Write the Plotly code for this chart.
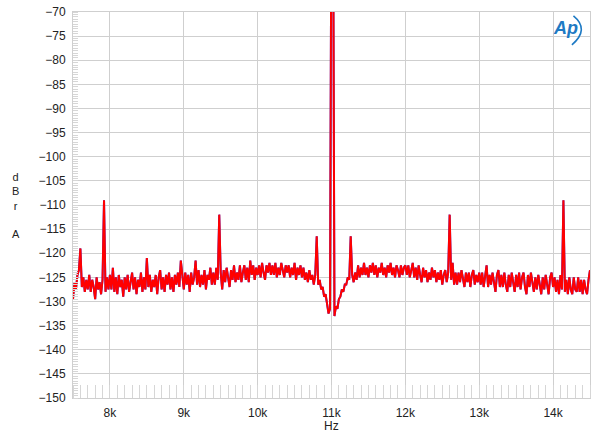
import plotly.graph_objects as go

# --- data (dBr A), sampled every 20 Hz ---
STEP_HZ = 20
seg_7k5 = [  # 7500 .. 7980
    -129.5, -126, -127.5, -124.5, -123.5, -119, -127, -125, -128, -125.5,
    -127.5, -124.5, -128, -125.5, -127, -129.5, -125, -127.5, -126, -128.5,
    -125.5, -109, -128, -125, -127.5,
]
seg_8k = [  # 8000 .. 8980
    -124.5, -127.5, -123, -128, -125, -128.5, -124.5, -127, -125.5, -129,
    -125, -127.5, -124.5, -128, -126, -124, -127.5, -125, -128.5, -125.5,
    -127, -124, -128, -125, -127.5, -121, -127, -124.5, -128, -125.5,
    -127, -124.5, -128.5, -125, -123.5, -127.5, -125, -128, -124.5, -126.5,
    -124, -127.5, -125, -128, -124.5, -126.5, -124, -127, -121.5, -125,
]
seg_9k = [  # 9000 .. 9980
    -127.5, -124, -126.5, -124.5, -128, -124, -126.5, -125, -121.5, -126.5,
    -123.5, -127, -124.5, -126.5, -123.5, -127.5, -124.5, -125.5, -123, -126.5,
    -124, -126.5, -123, -125.5, -112, -124, -127.5, -123.5, -126, -123,
    -125.5, -127, -123.5, -125.5, -122.5, -126, -124, -125.5, -122.5, -126,
    -124, -122.5, -125.5, -123, -126, -121.5, -124.5, -122.5, -125.5, -123,
]
seg_10k = [  # 10000 .. 10980
    -124.5, -122.5, -125, -122, -124, -125.5, -122.5, -124, -122, -124.5,
    -122.5, -124.5, -122, -125, -123, -124.5, -122, -124, -125, -122.5,
    -124, -122.5, -125, -123, -124.5, -122, -125.5, -123, -124.5, -122.5,
    -125, -123, -125.5, -124, -126, -123.5, -125.5, -124.5, -126.5, -124.5,
    -116.5, -126.5, -125.5, -127.5, -127, -129, -128.5, -130.5, -132.5, -131.5,
]
seg_11k = [  # 11000 .. 11980
    -40, -40, -133, -131, -131.5, -129.5, -129, -127.5, -128, -126.5,
    -126.5, -125, -125.5, -116.5, -124.5, -126, -124, -125.5, -122.5, -125,
    -123, -124.5, -122, -124.5, -123, -125, -122.5, -124, -122, -124.5,
    -122.5, -125, -123, -124, -122, -124.5, -123, -125, -122.5, -124,
    -122, -124.5, -123, -125, -122.5, -123.5, -125, -122.5, -124.5, -123,
]
seg_12k = [  # 12000 .. 12980
    -122.5, -124.5, -122.5, -125, -123, -122, -125, -123, -125.5, -122.5,
    -124.5, -126, -123, -125, -123.5, -126, -124, -125.5, -123, -125,
    -123.5, -126, -124, -125.5, -123.5, -126.5, -124.5, -123.5, -126, -124,
    -112, -125.5, -122, -126.5, -124, -126.5, -124, -126, -123.5, -125.5,
    -127, -124, -126, -124, -127, -124.5, -123.5, -126.5, -124.5, -126,
]
seg_13k = [  # 13000 .. 13980
    -124, -126.5, -124, -127, -124.5, -122.5, -127, -124.5, -126.5, -124,
    -126, -128, -124.5, -123.5, -127, -124.5, -127, -124, -126.5, -128,
    -124.5, -127, -124, -126, -128, -124.5, -127, -124, -127.5, -125,
    -124, -127, -128.5, -124.5, -127, -124, -126, -128, -125, -127.5,
    -124.5, -127, -128.5, -125, -127.5, -124.5, -127, -128.5, -125, -124,
]
seg_14k = [  # 14000 .. 14500
    -127, -125, -128, -125.5, -128.5, -124.5, -127.5, -109, -128, -125.5,
    -128.5, -125, -127.5, -128.5, -125, -127.5, -128, -125, -128, -125.5,
    -128.5, -125.5, -127.5, -128.5, -125.5, -123.5,
]
segments = [(7500, seg_7k5), (8000, seg_8k), (9000, seg_9k), (10000, seg_10k),
            (11000, seg_11k), (12000, seg_12k), (13000, seg_13k), (14000, seg_14k)]

tick_vals = [8000, 9000, 10000, 11000, 12000, 13000, 14000]
tick_text = ["8k", "9k", "10k", "11k", "12k", "13k", "14k"]
y_ticks = list(range(-150, -69, 5))

freq, level = [], []
for start, vals in segments:
    for i, v in enumerate(vals):
        freq.append(start + STEP_HZ * i)
        level.append(v)

fig = go.Figure()
fig.add_trace(go.Scatter(x=freq, y=level, mode="lines",
                         line=dict(color="#2030ff", width=2), showlegend=False))
fig.add_trace(go.Scatter(x=freq, y=level, mode="lines",
                         line=dict(color="#ff0000", width=2), showlegend=False))

grid = "#cfcfcf"
fig.update_layout(
    width=600, height=443,
    margin=dict(l=73, r=10, t=12, b=45),
    paper_bgcolor="white", plot_bgcolor="white",
    font=dict(family="Liberation Sans, Arial", size=12, color="#222"),
    xaxis=dict(range=[7500, 14500], tickvals=tick_vals, ticktext=tick_text,
               automargin=False,
               showgrid=True, gridcolor=grid, gridwidth=1,
               showline=True, linecolor=grid, mirror=True, zeroline=False,
               ticks="", ticklabelstandoff=4,
               minor=dict(dtick=100, tick0=7500, ticks="inside", ticklen=13,
                          tickcolor="#d6d6d6", showgrid=False)),
    yaxis=dict(range=[-150, -70], tickvals=y_ticks,
               automargin=False,
               showgrid=True, gridcolor=grid, gridwidth=1,
               showline=True, linecolor=grid, mirror=True, zeroline=False,
               ticks="", ticklabelstandoff=4,
               minor=dict(dtick=0.5, tick0=-150, ticks="inside", ticklen=5,
                          tickcolor="#d6d6d6", showgrid=False)),
)

fig.add_annotation(text="d<br>B<br>r<br> <br>A", xref="paper", yref="paper",
                   x=-0.110, y=0.5, xanchor="center", yanchor="middle",
                   showarrow=False, font=dict(size=11), align="center")
fig.add_annotation(text="Hz", xref="paper", yref="paper", x=0.5, y=-0.05,
                   xanchor="center", yanchor="top", showarrow=False,
                   font=dict(size=12))
fig.add_annotation(text="<b><i>Ap</i></b>", xref="paper", yref="paper",
                   x=0.953, y=0.99, xanchor="center", yanchor="top",
                   showarrow=False, font=dict(size=18, color="#1e7ac4"))
fig.add_shape(type="path", xref="paper", yref="paper",
              path="M 0.968 0.99 Q 1.0 0.955 0.965 0.915",
              line=dict(color="#1e7ac4", width=1.6))

fig.write_html("out.html", config={"displayModeBar": False},
               post_script="document.body.style.margin='0';document.body.style.overflow='hidden';")
